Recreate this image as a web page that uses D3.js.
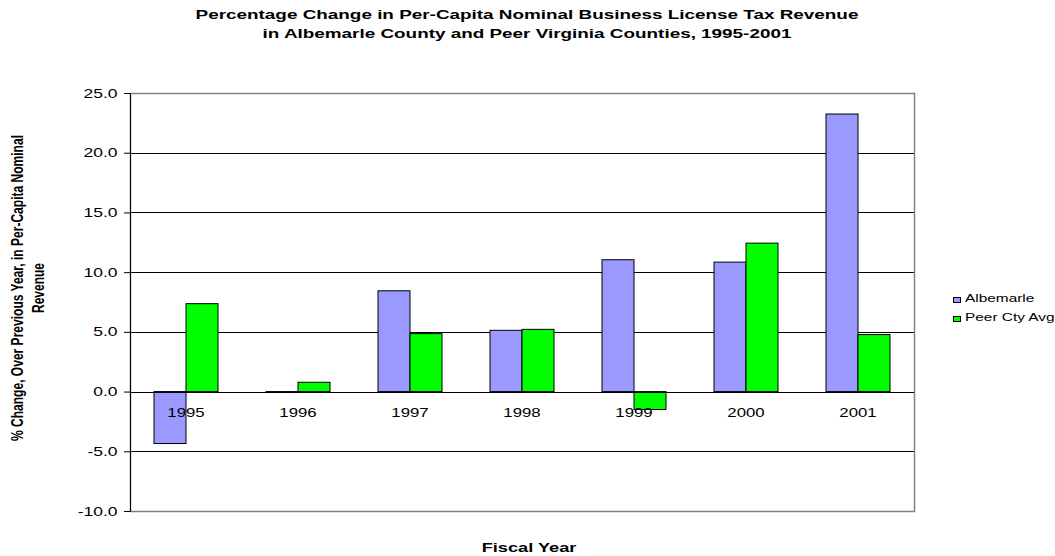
<!DOCTYPE html>
<html>
<head>
<meta charset="utf-8">
<script src="https://cdn.jsdelivr.net/npm/d3@7"></script>
<style>
  html, body { margin: 0; padding: 0; background: #fff; }
  svg { display: block; font-family: Arial, "Liberation Sans", sans-serif; }
</style>
</head>
<body>
<svg id="chart" width="1055" height="556"></svg>
<script>
// Fiscal years and percentage change series
const years = ["1995", "1996", "1997", "1998", "1999", "2000", "2001"];
const albemarle = [-4.35, -0.08, 8.44, 5.13, 11.04, 10.84, 23.24];
const peerCtyAvg = [7.36, 0.78, 4.85, 5.21, -1.5, 12.43, 4.77];
const seriesNames = ["Albemarle", "Peer Cty Avg"];
const seriesColors = ["#9999FF", "#00FF00"];
const yTicks = [-10, -5, 0, 5, 10, 15, 20, 25];

// Text is drawn horizontally widened
const SX = 1.4;

const svg = d3.select("#chart");
const plot = { left: 130, right: 914, top: 93, bottom: 511 };

const x = d3.scaleBand().domain(years).range([plot.left, plot.right]).paddingInner(0).paddingOuter(0);
const xInner = d3.scaleBand().domain(seriesNames).range([0, x.bandwidth()]).paddingInner(0).paddingOuter(0.75);
const y = d3.scaleLinear().domain([-10, 25]).range([plot.bottom, plot.top]);

function wideText(parent, tx, ty, str, size, bold, anchor) {
  return parent.append("text")
    .attr("transform", `translate(${tx},${ty}) scale(${SX},1)`)
    .attr("text-anchor", anchor || "start")
    .attr("font-size", size)
    .attr("font-weight", bold ? "bold" : "normal")
    .attr("fill", "#000")
    .text(str);
}

// Title
wideText(svg, 527, 19, "Percentage Change in Per-Capita Nominal Business License Tax Revenue", 13.5, true, "middle");
wideText(svg, 527, 38, "in Albemarle County and Peer Virginia Counties, 1995-2001", 13.5, true, "middle");

// Gridlines
svg.append("g").selectAll("line").data(yTicks.filter(d => d !== -10 && d !== 25 && d !== 0)).join("line")
  .attr("x1", plot.left).attr("x2", plot.right)
  .attr("y1", d => Math.round(y(d)) + 0.5).attr("y2", d => Math.round(y(d)) + 0.5)
  .attr("stroke", "#000").attr("stroke-width", 1);

// Plot area frame
svg.append("rect")
  .attr("x", plot.left + 0.5).attr("y", Math.round(plot.top) + 0.5)
  .attr("width", plot.right - plot.left).attr("height", Math.round(plot.bottom - plot.top))
  .attr("fill", "none").attr("stroke", "#808080").attr("stroke-width", 1.5);

// Bars
const series = [albemarle, peerCtyAvg];
const groups = svg.append("g").selectAll("g").data(years).join("g")
  .attr("transform", d => `translate(${x(d)},0)`);
groups.selectAll("rect").data((d, i) => series.map((s, k) => ({ name: seriesNames[k], value: s[i], color: seriesColors[k] })))
  .join("rect")
  .attr("x", d => xInner(d.name))
  .attr("width", xInner.bandwidth())
  .attr("y", d => y(Math.max(0, d.value)))
  .attr("height", d => Math.abs(y(d.value) - y(0)))
  .attr("fill", d => d.color)
  .attr("stroke", "#000").attr("stroke-width", 1);

// Y axis
const fmt = d => d3.format(".1f")(d).replace("\u2212", "-");
const yAxis = d3.axisLeft(y).tickValues(yTicks).tickSize(6).tickPadding(0).tickFormat(fmt);
const yg = svg.append("g").attr("transform", `translate(${plot.left},0)`).call(yAxis);
yg.select(".domain").attr("stroke", "#000");
yg.selectAll(".tick line").attr("stroke", "#000");
yg.selectAll(".tick text")
  .attr("x", -12.5 / SX)
  .attr("transform", `scale(${SX},1)`)
  .attr("font-size", 12.5).attr("font-family", "Arial, 'Liberation Sans', sans-serif").attr("fill", "#000");

// X axis along zero
const xAxis = d3.axisBottom(x).tickSize(0).tickPadding(16);
const xg = svg.append("g").attr("transform", `translate(0,${Math.round(y(0)) + 0.5})`).call(xAxis);
xg.select(".domain").attr("stroke", "#000").attr("d", `M${plot.left},0H${plot.right}`);
xg.selectAll(".tick text")
  .attr("transform", `scale(${SX},1)`)
  .attr("font-size", 12).attr("font-family", "Arial, 'Liberation Sans', sans-serif").attr("fill", "#000");

// Axis titles
wideText(svg, 529, 552, "Fiscal Year", 13, true, "middle");

function yTitleLine(bx, str, len) {
  svg.append("text")
    .attr("transform", `translate(${bx},288) scale(${SX},1) rotate(-90)`)
    .attr("text-anchor", "middle").attr("font-weight", "bold").attr("font-size", 11.5)
    .attr("textLength", len).attr("lengthAdjust", "spacingAndGlyphs")
    .text(str);
}
yTitleLine(22.5, "% Change, Over Previous Year, in Per-Capita Nominal", 306);
yTitleLine(43.5, "Revenue", 50);

// Legend
const legend = svg.append("g");
seriesNames.forEach((n, i) => {
  const ty = 297 + i * 19;
  legend.append("rect").attr("x", 953.5).attr("y", ty + 0.5).attr("width", 7).attr("height", 5)
    .attr("fill", seriesColors[i]).attr("stroke", "#000");
  wideText(legend, 965, ty + 5, n, 11, false, "start");
});
</script>
</body>
</html>
